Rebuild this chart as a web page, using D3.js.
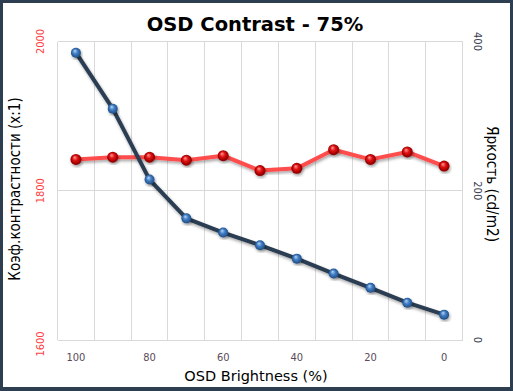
<!DOCTYPE html>
<html><head><meta charset="utf-8">
<script src="https://cdn.jsdelivr.net/npm/d3@7"></script>
<style>html,body{margin:0;padding:0;background:#2c3e50;}svg{display:block;}</style>
</head><body>
<script>
const categories = [100, 90, 80, 70, 60, 50, 40, 30, 20, 10, 0];
const contrast = [1842, 1845, 1845, 1841, 1847, 1827, 1830, 1855, 1842, 1852, 1833];
const brightness = [385, 310, 215, 163, 144, 127, 109, 89, 70, 50, 34];
const xTickLabels = [100, 80, 60, 40, 20, 0];
const leftTicks = [1600, 1800, 2000];
const rightTicks = [0, 200, 400];

const W = 513, H = 391;
const svg = d3.select("body").append("svg").attr("width", W).attr("height", H);
const defs = svg.append("defs");

function sphere(id, hi, mid, edge) {
  const g = defs.append("radialGradient").attr("id", id)
    .attr("cx", "50%").attr("cy", "50%").attr("r", "55%").attr("fx", "38%").attr("fy", "30%");
  g.append("stop").attr("offset", "0%").attr("stop-color", hi);
  g.append("stop").attr("offset", "45%").attr("stop-color", mid);
  g.append("stop").attr("offset", "100%").attr("stop-color", edge);
}
sphere("gRed", "#ff9a9a", "#dd0a0a", "#7a0000");
sphere("gBlue", "#b5d5f7", "#3f7cc4", "#1c4578");
const f = defs.append("filter").attr("id", "sh").attr("x", "-20%").attr("y", "-20%").attr("width", "140%").attr("height", "140%");
f.append("feDropShadow").attr("dx", 1).attr("dy", 2).attr("stdDeviation", 1.5).attr("flood-color", "#000").attr("flood-opacity", 0.35);

svg.append("rect").attr("x", 3).attr("y", 3).attr("width", 507).attr("height", 384).attr("fill", "#fff");

const L = 57.5, R = 462.5, T = 41.5, B = 340;
const x = d3.scaleBand().domain(categories).range([L, R]).padding(0);
const yL = d3.scaleLinear().domain([1600, 2000]).range([B, T]);
const yR = d3.scaleLinear().domain([0, 400]).range([B, T]);

const grid = svg.append("g").attr("stroke", "#d9d9d9").attr("stroke-width", 1).attr("shape-rendering", "crispEdges");
categories.forEach(c => grid.append("line").attr("x1", x(c)).attr("x2", x(c)).attr("y1", T).attr("y2", B));
grid.append("line").attr("x1", R).attr("x2", R).attr("y1", T).attr("y2", B);
leftTicks.forEach(t => grid.append("line").attr("x1", L).attr("x2", R).attr("y1", yL(t)).attr("y2", yL(t)));

const cx = c => x(c) + x.bandwidth() / 2;

// contrast series (red)
svg.append("path").datum(categories.map((c, i) => [cx(c), yL(contrast[i])]))
  .attr("d", d3.line()).attr("fill", "none").attr("stroke", "#ff4d4d").attr("stroke-width", 4)
  .attr("stroke-linejoin", "round").attr("filter", "url(#sh)");
svg.append("g").selectAll("circle").data(categories).join("circle")
  .attr("cx", d => cx(d)).attr("cy", (d, i) => yL(contrast[i])).attr("r", 5.5)
  .attr("fill", "url(#gRed)").attr("filter", "url(#sh)");

// brightness series (blue)
svg.append("path").datum(categories.map((c, i) => [cx(c), yR(brightness[i])]))
  .attr("d", d3.line()).attr("fill", "none").attr("stroke", "#2b3e52").attr("stroke-width", 4)
  .attr("stroke-linejoin", "round").attr("filter", "url(#sh)");
svg.append("g").selectAll("circle").data(categories).join("circle")
  .attr("cx", d => cx(d)).attr("cy", (d, i) => yR(brightness[i])).attr("r", 5)
  .attr("fill", "url(#gBlue)").attr("filter", "url(#sh)");

const font = "'DejaVu Sans Condensed', 'DejaVu Sans', sans-serif";

// x ticks
svg.append("g").selectAll("text").data(xTickLabels).join("text")
  .attr("x", d => cx(d)).attr("y", 361).attr("text-anchor", "middle")
  .attr("font-family", font).attr("font-size", 11).attr("fill", "#5a4a5a").text(d => d);

// left ticks
svg.append("g").selectAll("text").data(leftTicks).join("text")
  .attr("transform", d => `translate(40,${yL(d) + (d === 1600 ? 4 : 0)}) rotate(-90)`)
  .attr("text-anchor", "middle").attr("dominant-baseline", "central")
  .attr("font-family", font).attr("font-size", 11).attr("fill", "#ff4040").text(d => d);

// right ticks
svg.append("g").selectAll("text").data(rightTicks).join("text")
  .attr("transform", d => `translate(477,${yR(d)}) rotate(90)`)
  .attr("text-anchor", "middle").attr("dominant-baseline", "central")
  .attr("font-family", font).attr("font-size", 11).attr("fill", "#3a4050").text(d => d);

// axis titles
svg.append("text").attr("x", 256).attr("y", 381).attr("text-anchor", "middle")
  .attr("font-family", "'DejaVu Sans', sans-serif").attr("font-size", 14.5).attr("fill", "#000").text("OSD Brightness (%)");
svg.append("text").attr("transform", "translate(15,189) rotate(-90)").attr("text-anchor", "middle")
  .attr("dominant-baseline", "central")
  .attr("font-family", font).attr("font-size", 15).attr("fill", "#000").text("Коэф.контрастности (x:1)");
svg.append("text").attr("transform", "translate(492,184) rotate(90)").attr("text-anchor", "middle")
  .attr("dominant-baseline", "central")
  .attr("font-family", font).attr("font-size", 15.2).attr("fill", "#000").text("Яркость (cd/m2)");

// title
svg.append("text").attr("x", 255).attr("y", 31).attr("text-anchor", "middle")
  .attr("font-family", "'DejaVu Sans', sans-serif").attr("font-weight", "bold").attr("font-size", 19.5)
  .attr("fill", "#000").text("OSD Contrast - 75%");
</script>
</body></html>
